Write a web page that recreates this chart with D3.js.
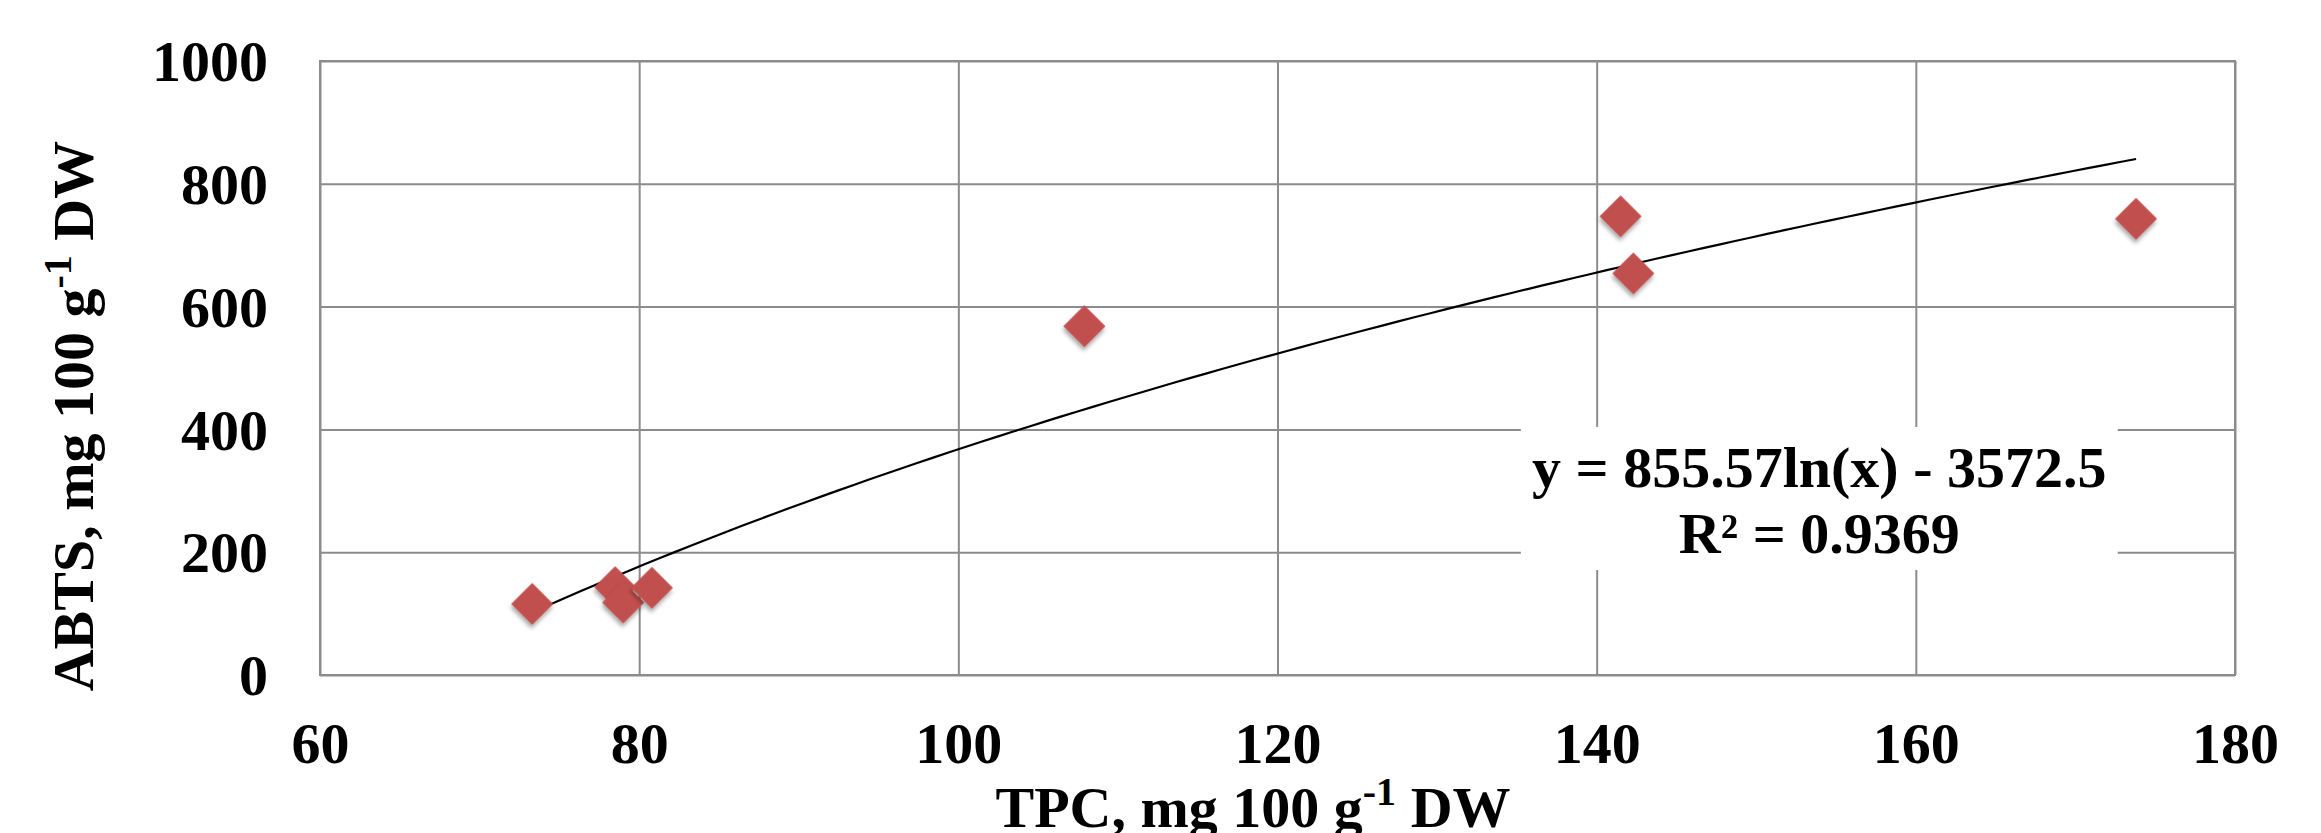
<!DOCTYPE html>
<html>
<head>
<meta charset="utf-8">
<script src="https://cdn.jsdelivr.net/npm/d3@7"></script>
<style>
  body { margin: 0; background: #fff; }
  text { font-family: "Liberation Serif", "Times New Roman", serif; font-weight: bold; fill: #000; }
</style>
</head>
<body>
<div id="scatter"></div>
<script>
const svgWidth = 2321;
const svgHeight = 833;

const margin = {
  top: 61,
  right: 86,
  bottom: 158,
  left: 320
};

var width = svgWidth - margin.left - margin.right;
var height = svgHeight - margin.top - margin.bottom;

// data
var tpc = [73.3, 78.5, 79.0, 80.8, 107.9, 141.5, 142.3, 173.8];
var abts = [115.7, 143, 118, 142, 568, 747, 654, 743];
var xTicks = [60, 80, 100, 120, 140, 160, 180];
var yTicks = [0, 200, 400, 600, 800, 1000];

// log trendline y = a ln(x) + b
var fitA = 855.57;
var fitB = -3572.5;
var fitLabel = ["y = 855.57ln(x) - 3572.5", "R² = 0.9369"];

var svg = d3
  .select("#scatter")
  .append("svg")
  .attr("width", svgWidth)
  .attr("height", svgHeight);

// drop shadow for the markers
var filter = svg.append("defs").append("filter")
  .attr("id", "shadow")
  .attr("x", "-50%").attr("y", "-50%")
  .attr("width", "200%").attr("height", "200%");
filter.append("feDropShadow")
  .attr("dx", 2)
  .attr("dy", 3)
  .attr("stdDeviation", 2)
  .attr("flood-color", "#000")
  .attr("flood-opacity", 0.35);

var chartGroup = svg.append("g")
  .attr("transform", `translate(${margin.left}, ${margin.top})`);

var xLinearScale = d3.scaleLinear()
  .domain([60, 180])
  .range([0, width]);

var yLinearScale = d3.scaleLinear()
  .domain([0, 1000])
  .range([height, 0]);

// axes double as gridlines
var bottomAxis = d3.axisBottom(xLinearScale)
  .tickValues(xTicks)
  .tickSize(-height)
  .tickSizeOuter(0)
  .tickPadding(47)
  .tickFormat(d3.format("d"));

var leftAxis = d3.axisLeft(yLinearScale)
  .tickValues(yTicks)
  .tickSize(-width)
  .tickSizeOuter(0)
  .tickPadding(52)
  .tickFormat(d3.format("d"));

var xAxis = chartGroup.append("g")
  .attr("transform", `translate(0, ${height})`)
  .call(bottomAxis);

var yAxis = chartGroup.append("g")
  .call(leftAxis);

[xAxis, yAxis].forEach(function(ax) {
  ax.select(".domain").remove();
  ax.selectAll("line")
    .attr("stroke", "#8c8c8c")
    .attr("stroke-width", 2);
  ax.selectAll("text")
    .style("font-size", "58px")
    .style("font-family", "'Liberation Serif', 'Times New Roman', serif")
    .style("font-weight", "bold");
});
yAxis.selectAll("text").attr("dy", "0.34em");

// plot area border
chartGroup.append("rect")
  .attr("x", 0)
  .attr("y", 0)
  .attr("width", width)
  .attr("height", height)
  .attr("fill", "none")
  .attr("stroke", "#8c8c8c")
  .attr("stroke-width", 2);

// trendline over the data range
var xMin = d3.min(tpc);
var xMax = d3.max(tpc);
var fitPoints = d3.range(0, 101).map(i => xMin + (xMax - xMin) * i / 100);

var line = d3.line()
  .x(d => xLinearScale(d))
  .y(d => yLinearScale(fitA * Math.log(d) + fitB));

chartGroup.append("path")
  .datum(fitPoints)
  .attr("d", line)
  .attr("fill", "none")
  .attr("stroke", "#000")
  .attr("stroke-width", 2.2);

// diamond markers
var points = tpc.map((x, i) => ({ x: x, y: abts[i] }));
var diamond = d3.symbol().type(d3.symbolSquare).size(880);

chartGroup.selectAll(".pt")
  .data(points)
  .enter()
  .append("path")
  .attr("class", "pt")
  .attr("d", diamond)
  .attr("transform", d => `translate(${xLinearScale(d.x)}, ${yLinearScale(d.y)}) rotate(45)`)
  .attr("fill", "#c0504d")
  .attr("filter", "url(#shadow)");

// equation label on a white box
var eqX = xLinearScale(153.95);
var eqGroup = chartGroup.append("g");
eqGroup.append("rect")
  .attr("x", xLinearScale(135.25))
  .attr("y", yLinearScale(404))
  .attr("width", xLinearScale(172.65) - xLinearScale(135.25))
  .attr("height", yLinearScale(171) - yLinearScale(404))
  .attr("fill", "#fff");

eqGroup.selectAll("text")
  .data(fitLabel)
  .enter()
  .append("text")
  .attr("x", eqX)
  .attr("y", (d, i) => yLinearScale(307) + i * 66)
  .attr("text-anchor", "middle")
  .style("font-size", "58px")
  .text(d => d);

// axis titles
var xTitle = svg.append("text")
  .attr("x", 1253)
  .attr("y", 827)
  .attr("text-anchor", "middle")
  .style("font-size", "58px");
xTitle.append("tspan").text("TPC, mg 100 g");
xTitle.append("tspan").attr("baseline-shift", "super").style("font-size", "40px").text("-1");
xTitle.append("tspan").text(" DW");

var yTitle = svg.append("text")
  .attr("transform", "translate(93, 416) rotate(-90)")
  .attr("text-anchor", "middle")
  .style("font-size", "58px");
yTitle.append("tspan").text("ABTS, mg 100 g");
yTitle.append("tspan").attr("baseline-shift", "super").style("font-size", "40px").text("-1");
yTitle.append("tspan").text(" DW");
</script>
</body>
</html>
